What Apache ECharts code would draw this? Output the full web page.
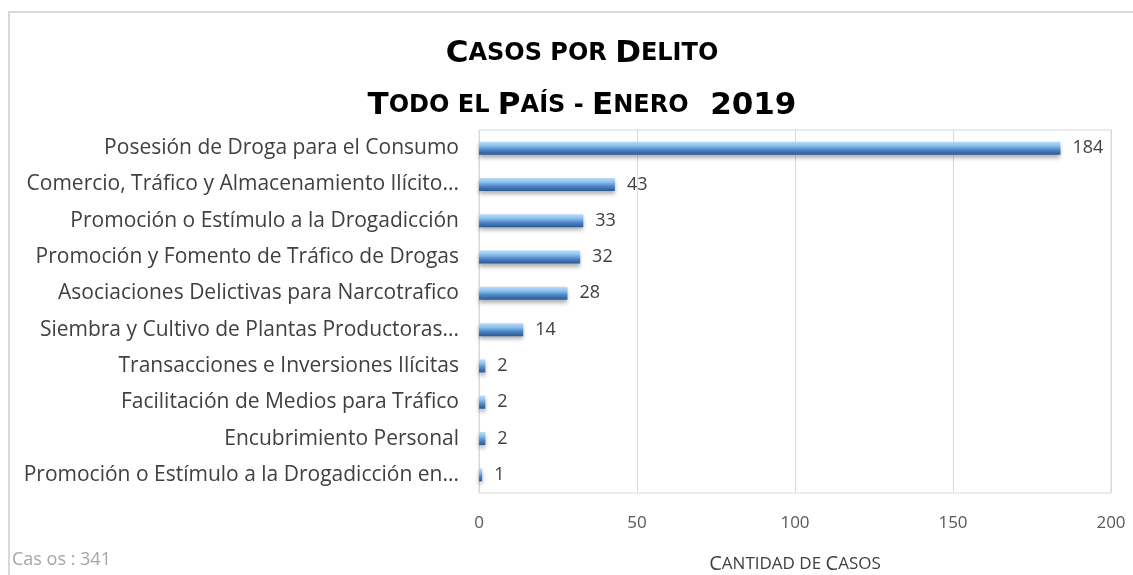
<!DOCTYPE html>
<html>
<head>
<meta charset="utf-8">
<script src="https://cdn.jsdelivr.net/npm/echarts@6/dist/echarts.min.js"></script>
<style>
  html, body { margin: 0; padding: 0; background: #fff; }
  #chart { width: 1133px; height: 575px; }
</style>
</head>
<body>
<div id="chart"></div>
<script>
// delitos, de mayor a menor
var categories = [
  'Posesión de Droga para el Consumo',
  'Comercio, Tráfico y Almacenamiento Ilícito de Drogas',
  'Promoción o Estímulo a la Drogadicción',
  'Promoción y Fomento de Tráfico de Drogas',
  'Asociaciones Delictivas para Narcotrafico',
  'Siembra y Cultivo de Plantas Productoras de Drogas',
  'Transacciones e Inversiones Ilícitas',
  'Facilitación de Medios para Tráfico',
  'Encubrimiento Personal',
  'Promoción o Estímulo a la Drogadicción en Menores'
]
var casos = [184, 43, 33, 32, 28, 14, 2, 2, 2, 1]
var xTicks = [0, 50, 100, 150, 200]
var totalCasos = 341

var font = "'Open Sans', 'Liberation Sans', sans-serif"
var titleFont = "'DejaVu Sans', 'Open Sans', sans-serif"
var labelSize = 21
var labelMaxWidth = 440

// corta por palabras como lo hace Excel
var ctx = document.createElement('canvas').getContext('2d')
ctx.font = labelSize + 'px ' + font
function cutLabel(txt) {
  if (ctx.measureText(txt).width <= labelMaxWidth) return txt
  var words = txt.split(' ')
  while (words.length > 1) {
    words.pop()
    var t = words.join(' ') + '...'
    if (ctx.measureText(t).width <= labelMaxWidth) return t
  }
  return txt
}

var chart = echarts.init(document.getElementById('chart'))

var option = {
  backgroundColor: '#fff',
  title: {
    text: '{b|C}{s|ASOS POR }{b|D}{s|ELITO}\n{b|T}{s|ODO EL }{b|P}{s|AÍS - }{b|E}{s|NERO}{b|  2019}',
    left: 577,
    top: 23,
    textAlign: 'center',
    textStyle: {
      rich: {
        b: { fontFamily: titleFont, fontWeight: 'bold', fontSize: 31, color: '#000', lineHeight: 52 },
        s: { fontFamily: titleFont, fontWeight: 'bold', fontSize: 24, color: '#000', lineHeight: 52 }
      }
    }
  },
  graphic: [
    {
      type: 'rect',
      shape: { x: 9, y: 12, width: 1140, height: 580 },
      style: { fill: 'none', stroke: '#d9d9d9', lineWidth: 2 },
      silent: true
    },
    {
      type: 'text',
      left: 12,
      top: 551,
      style: { text: 'Cas os : ' + totalCasos, fill: '#a6a6a6', font: '18px ' + font }
    }
  ],
  grid: {
    left: 479,
    right: 22,
    top: 130,
    bottom: 82,
    outerBoundsMode: 'none',
    containLabel: false,
    show: true,
    borderColor: '#d9d9d9',
    borderWidth: 1
  },
  xAxis: {
    type: 'value',
    min: 0,
    max: 200,
    interval: 50,
    name: '{b|C}{s|ANTIDAD DE }{b|C}{s|ASOS}',
    nameLocation: 'middle',
    nameGap: 61,
    nameTextStyle: {
      rich: {
        b: { fontFamily: font, fontSize: 20, color: '#404040' },
        s: { fontFamily: font, fontSize: 17, color: '#404040' }
      }
    },
    axisLine: { show: false },
    axisTick: { show: false },
    axisLabel: {
      margin: 22,
      color: '#595959',
      fontFamily: font,
      fontSize: 17,
      formatter: function (v) { return xTicks.indexOf(v) >= 0 ? String(v) : '' }
    },
    splitLine: { lineStyle: { color: '#d9d9d9', width: 1 } }
  },
  yAxis: {
    type: 'category',
    inverse: true,
    data: categories,
    axisLine: { show: false },
    axisTick: { show: false },
    axisLabel: {
      margin: 20,
      color: '#404040',
      fontFamily: font,
      fontSize: labelSize,
      formatter: cutLabel
    }
  },
  series: [{
    type: 'bar',
    data: casos,
    barWidth: 13,
    itemStyle: {
      color: new echarts.graphic.LinearGradient(0, 0, 0, 1, [
        { offset: 0, color: '#b8dcf9' },
        { offset: 0.3, color: '#8fc2ef' },
        { offset: 0.65, color: '#4d84c5' },
        { offset: 1, color: '#2a5894' }
      ]),
      shadowColor: 'rgba(0,0,0,0.3)',
      shadowBlur: 4,
      shadowOffsetY: 3
    },
    label: {
      show: true,
      position: 'right',
      distance: 12,
      color: '#404040',
      fontFamily: font,
      fontSize: 18
    }
  }]
}

chart.setOption(option)
</script>
</body>
</html>
